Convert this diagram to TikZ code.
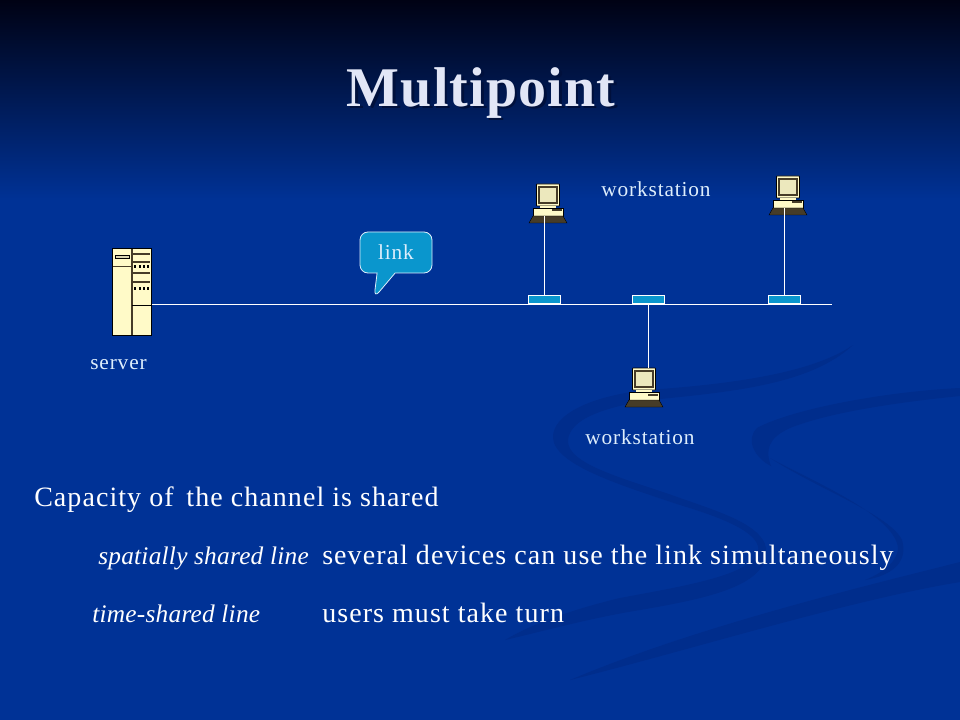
\documentclass[tikz,border=0pt]{standalone}
\usepackage{fontspec}
\setmainfont{Liberation Serif}
\newfontfamily\widefont[LetterSpace=3.8]{Liberation Serif}
\newfontfamily\labelfont[LetterSpace=4]{Liberation Serif}
\newfontfamily\italfont[LetterSpace=1,ItalicFont={Liberation Serif Italic}]{Liberation Serif}
\newfontfamily\titlefont[LetterSpace=2]{Liberation Serif}
\usetikzlibrary{positioning,shapes.callouts}
\definecolor{slideblue}{RGB}{0,50,150}
\definecolor{slidetop}{RGB}{0,2,20}
\definecolor{swirlblue}{RGB}{0,45,140}
\definecolor{labelblue}{RGB}{222,238,252}
\definecolor{titlewhite}{RGB}{226,230,246}
\definecolor{tapblue}{RGB}{10,150,205}
\definecolor{unitcream}{RGB}{255,250,200}
\definecolor{unitdark}{RGB}{70,60,40}
\definecolor{shadowblue}{RGB}{0,16,60}
\tikzset{
  netlabel/.style={text=labelblue, font=\fontsize{16}{18}\selectfont\labelfont, inner sep=0pt},
  bodytext/.style={text=white, font=\fontsize{21}{24}\selectfont\widefont, anchor=base west, inner sep=0pt},
  bodyital/.style={text=white, font=\fontsize{19}{24}\selectfont\italfont\itshape, anchor=base west, inner sep=0pt},
  tapbox/.style={draw=white, line width=0.6pt, fill=tapblue, minimum width=32.5*0.75pt, minimum height=8*0.75pt, inner sep=0pt, anchor=south},
  wirestyle/.style={draw=white, line width=0.7pt},
  wsnode/.style={minimum width=38*0.75pt, minimum height=32*0.75pt, inner sep=0pt},
}
% title text with its offset shadow, one node
\newcommand{\shadowed}[1]{\rlap{\kern2pt\raisebox{-2pt}{\textcolor{shadowblue}{#1}}}#1}
% small computer, drawn round the centre of its node
\newcommand{\wsicon}[1]{
  \begin{scope}[shift={(#1)}, line width=0.6pt]
    \draw[fill=unitcream, rounded corners=0.5pt] (-11.5,-16) rectangle (11.5,6);
    \draw[fill=unitcream!85!gray, draw=unitdark, line width=0.8pt] (-9,-13) rectangle (9,3);
    \fill[unitcream] (-8,6) rectangle (8,8);
    \draw[fill=unitcream] (-15,8) rectangle (15,16);
    \fill[unitdark] (4,9.5) rectangle (14,11.5);
    \draw[draw=black, fill=unitdark, line width=0.3pt] (-15,16) -- (15,16) -- (19,23) -- (-19,23) -- cycle;
  \end{scope}
}
\begin{document}
\begin{tikzpicture}[x=0.75pt, y=-0.75pt]
  \useasboundingbox (0,0) rectangle (960,720);
  % background
  \fill[slideblue] (0,0) rectangle (960,720);
  \shade[top color=slidetop, bottom color=slideblue] (0,0) rectangle (960,200);

  % swirl
  \fill[swirlblue] (853,345) .. controls (810,375) and (720,385) .. (647,390)
    .. controls (590,396) and (552,415) .. (553,438) .. controls (555,465) and (620,485) .. (680,505)
    .. controls (730,520) and (762,535) .. (758,552) .. controls (750,575) and (690,585) .. (620,598)
    .. controls (570,610) and (530,625) .. (505,640) .. controls (540,632) and (590,618) .. (640,610)
    .. controls (710,598) and (770,585) .. (766,548) .. controls (762,525) and (720,512) .. (680,498)
    .. controls (630,480) and (566,465) .. (568,440) .. controls (570,420) and (600,408) .. (650,400)
    .. controls (730,392) and (810,385) .. (853,345) -- cycle;
  \fill[swirlblue] (960,388) .. controls (880,392) and (790,410) .. (757,428)
    .. controls (745,440) and (755,458) .. (771,466) .. controls (765,450) and (768,438) .. (790,428)
    .. controls (830,412) and (900,402) .. (960,396) -- cycle;
  \fill[swirlblue] (770,458) .. controls (810,480) and (895,515) .. (898,548)
    .. controls (898,560) and (885,572) .. (865,580) .. controls (895,575) and (908,560) .. (902,540)
    .. controls (890,515) and (820,490) .. (770,458) -- cycle;
  \fill[swirlblue] (960,562) .. controls (870,585) and (700,625) .. (570,680)
    .. controls (690,650) and (850,600) .. (960,582) -- cycle;

  % title
  \node[text=titlewhite, font=\fontsize{42}{48}\selectfont\titlefont\bfseries] (title) at (481,94) {\shadowed{Multipoint}};

  % server
  \node[draw=black, line width=0.8pt, fill=unitcream, minimum width=39*0.75pt, minimum height=87*0.75pt, inner sep=0pt] (server) at (132,292) {};
  \draw[unitdark, line width=0.8pt] (132,249) -- (132,335);
  \draw[unitdark, line width=0.5pt] (113,266) -- (132,266);
  \draw[black, line width=0.5pt] (132,305) -- (151,305);
  \draw[fill=unitcream!70!gray, line width=0.4pt] (115,255) rectangle (129,258);
  \foreach \y in {254,262,273,282} {
    \draw[unitdark, line width=1pt] (133,\y) -- (150,\y);
  }
  \foreach \y in {266.5,288.5} {
    \foreach \x in {135,139.5,144,148} {
      \fill[black] (\x-1,\y-1.5) rectangle (\x+1,\y+1.5);
    }
  }

  % bus
  \coordinate (busend) at (832,304);
  \draw[wirestyle] (server.east |- busend) -- (busend);

  % taps
  \node[tapbox] (tapA) at (544.5,304) {};
  \node[tapbox] (tapB) at (648.5,304) {};
  \node[tapbox] (tapC) at (784.5,304) {};

  % workstations
  \node[wsnode] (wsA) at (548,200) {};
  \node[wsnode] (wsC) at (788,192) {};
  \node[wsnode] (wsB) at (644,384) {};
  \wsicon{wsA}
  \wsicon{wsC}
  \wsicon{wsB}
  \draw[wirestyle] (tapA.north) -- (tapA.north |- wsA.south);
  \draw[wirestyle] (tapC.north) -- (tapC.north |- wsC.south);
  \draw[wirestyle] (tapB.south) -- (tapB.south |- wsB.north);

  % callout
  \node[rectangle callout, rounded corners=6pt, draw=labelblue, line width=0.6pt, fill=tapblue, text=labelblue, font=\fontsize{16}{18}\selectfont\labelfont,
    minimum width=72*0.75pt, minimum height=41*0.75pt, inner sep=0pt, callout pointer width=18*0.75pt,
    callout absolute pointer={(374,298)}] (linktag) at (396,252.5) {link};

  % labels
  \node[netlabel] (serverlabel) at (118.5,365) {server};
  \node[netlabel] (wslabelA) at (656,189) {workstation};
  \node[netlabel] (wslabelB) at (640,437) {workstation};

  % text block
  \node[bodytext] (capline) at (34,506) {Capacity of\, the channel is shared};
  \node[bodyital] (spatial) at (98,564) {spatially shared line};
  \node[bodytext] (spatialtext) at (322,564) {several devices can use the link simultaneously};
  \node[bodyital] (timeshared) at (92,622) {time-shared line};
  \node[bodytext] (timetext) at (322,622) {users must take turn};
\end{tikzpicture}
\end{document}
